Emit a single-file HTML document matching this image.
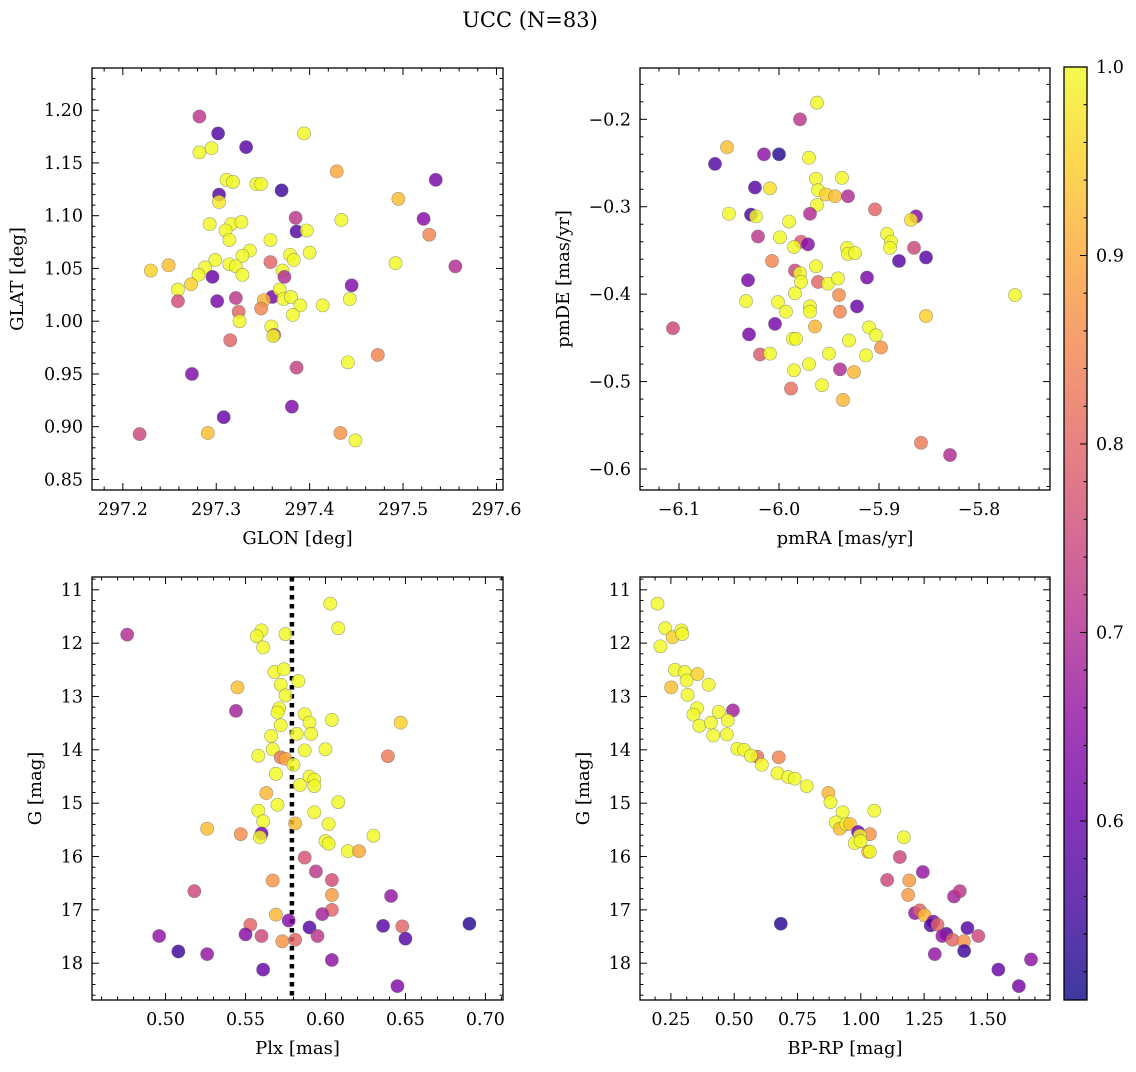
<!DOCTYPE html>
<html><head><meta charset="utf-8"><style>
html,body{margin:0;padding:0;background:#fff;}
svg text{font-family:"DejaVu Serif","Liberation Serif",serif;fill:#000;}
</style></head>
<body>
<svg id="fig" xmlns="http://www.w3.org/2000/svg" width="1136" height="1067" viewBox="0 0 1136 1067">
<defs>
<linearGradient id="plasmaGrad" x1="0" y1="1" x2="0" y2="0">
<stop offset="0" stop-color="#0d0887"/><stop offset="0.1" stop-color="#41049d"/><stop offset="0.2" stop-color="#6a00a8"/><stop offset="0.3" stop-color="#8f0da4"/><stop offset="0.4" stop-color="#b12a90"/><stop offset="0.5" stop-color="#cc4778"/><stop offset="0.6" stop-color="#e16462"/><stop offset="0.7" stop-color="#f2844b"/><stop offset="0.8" stop-color="#fca636"/><stop offset="0.9" stop-color="#fcce25"/><stop offset="1" stop-color="#f0f921"/>
</linearGradient>
</defs>
<text x="530" y="27" text-anchor="middle" font-size="21">UCC (N=83)</text>
</svg>
<script>
// ---- Panel 1: GLON / GLAT ----
const p1Lon=[297.282,297.302,297.394,297.332,297.282,297.295,297.429,297.535,297.311,297.318,297.343,297.348,297.370,297.303,297.303,297.495,297.522,297.385,297.434,297.528,297.386,297.397,297.293,297.316,297.327,297.310,297.314,297.358,297.400,297.336,297.328,297.379,297.383,297.492,297.556,297.358,297.299,297.314,297.321,297.288,297.249,297.230,297.281,297.328,297.296,297.371,297.373,297.273,297.259,297.445,297.259,297.301,297.321,297.360,297.368,297.351,297.348,297.372,297.380,297.390,297.414,297.443,297.382,297.324,297.325,297.359,297.362,297.361,297.315,297.473,297.441,297.386,297.274,297.381,297.308,297.218,297.291,297.433,297.449];
const p1Lat=[1.194,1.178,1.178,1.165,1.160,1.164,1.142,1.134,1.134,1.132,1.130,1.130,1.124,1.120,1.113,1.116,1.097,1.098,1.096,1.082,1.085,1.086,1.092,1.092,1.094,1.086,1.077,1.077,1.065,1.067,1.062,1.063,1.058,1.055,1.052,1.056,1.058,1.054,1.052,1.051,1.053,1.048,1.044,1.044,1.042,1.048,1.042,1.035,1.030,1.034,1.019,1.019,1.022,1.023,1.030,1.020,1.012,1.021,1.023,1.015,1.015,1.021,1.006,1.009,1.000,0.995,0.987,0.986,0.982,0.968,0.961,0.956,0.950,0.919,0.909,0.893,0.894,0.894,0.887];
const p1Prob=[0.72,0.57,1.0,0.58,1.0,1.0,0.9,0.62,1.0,1.0,1.0,1.0,0.55,0.58,0.98,0.93,0.64,0.72,1.0,0.85,0.58,1.0,1.0,1.0,1.0,1.0,1.0,1.0,1.0,1.0,1.0,1.0,1.0,1.0,0.7,0.8,1.0,1.0,1.0,1.0,0.93,0.95,1.0,1.0,0.6,1.0,0.7,0.95,1.0,0.63,0.76,0.62,0.72,0.62,1.0,0.92,0.85,1.0,1.0,1.0,1.0,1.0,1.0,0.8,1.0,1.0,0.75,1.0,0.8,0.85,1.0,0.74,0.63,0.63,0.6,0.75,0.93,0.87,1.0];
// ---- Panel 2: pmRA / pmDE ----
const p2RA=[-5.962,-5.979,-6.052,-6.015,-6.000,-6.064,-5.970,-5.963,-5.937,-6.024,-6.009,-5.961,-5.953,-5.944,-5.931,-5.962,-5.904,-6.050,-6.028,-6.023,-5.969,-5.863,-5.868,-5.990,-6.021,-5.999,-5.892,-5.888,-5.889,-5.978,-5.971,-5.985,-5.932,-5.931,-5.924,-5.865,-6.007,-5.880,-5.853,-5.984,-5.979,-5.978,-5.963,-5.961,-5.951,-5.941,-5.912,-6.031,-5.940,-5.984,-6.033,-6.001,-5.764,-5.969,-5.969,-5.922,-5.939,-5.993,-5.853,-6.106,-6.004,-5.964,-5.910,-6.030,-5.903,-5.986,-5.983,-5.930,-5.898,-6.019,-6.009,-5.950,-5.913,-5.970,-5.985,-5.939,-5.925,-5.957,-5.988,-5.936,-5.858,-5.829];
const p2DE=[-0.181,-0.200,-0.232,-0.240,-0.240,-0.251,-0.244,-0.268,-0.267,-0.278,-0.279,-0.281,-0.286,-0.288,-0.288,-0.298,-0.303,-0.308,-0.309,-0.311,-0.308,-0.311,-0.315,-0.317,-0.334,-0.335,-0.331,-0.340,-0.347,-0.340,-0.343,-0.346,-0.347,-0.354,-0.353,-0.347,-0.362,-0.362,-0.358,-0.373,-0.376,-0.386,-0.368,-0.386,-0.388,-0.382,-0.381,-0.384,-0.401,-0.399,-0.408,-0.409,-0.401,-0.414,-0.420,-0.414,-0.420,-0.420,-0.425,-0.439,-0.434,-0.437,-0.438,-0.446,-0.447,-0.451,-0.451,-0.453,-0.461,-0.469,-0.468,-0.468,-0.470,-0.480,-0.487,-0.486,-0.489,-0.504,-0.508,-0.521,-0.570,-0.584];
const p2Prob=[1.0,0.72,0.93,0.65,0.53,0.58,1.0,1.0,1.0,0.58,0.97,1.0,0.95,0.93,0.7,1.0,0.8,1.0,0.56,1.0,0.7,0.64,0.97,1.0,0.72,1.0,1.0,1.0,1.0,0.78,0.64,1.0,1.0,1.0,1.0,0.75,0.85,0.58,0.58,0.75,1.0,1.0,1.0,0.8,1.0,1.0,0.62,0.62,0.86,1.0,1.0,1.0,1.0,1.0,1.0,0.6,0.85,1.0,0.95,0.75,0.62,0.92,1.0,0.62,1.0,1.0,1.0,1.0,0.87,0.78,1.0,1.0,1.0,1.0,1.0,0.7,0.92,1.0,0.82,0.92,0.83,0.7];
// ---- Panel 3: Plx / G ----
const p3Plx=[0.603,0.608,0.476,0.560,0.557,0.575,0.561,0.568,0.574,0.583,0.572,0.545,0.575,0.544,0.571,0.570,0.587,0.590,0.604,0.647,0.572,0.582,0.591,0.566,0.567,0.587,0.600,0.558,0.572,0.575,0.580,0.639,0.569,0.590,0.593,0.584,0.593,0.563,0.570,0.558,0.608,0.593,0.561,0.581,0.602,0.526,0.547,0.560,0.559,0.630,0.600,0.602,0.614,0.621,0.587,0.594,0.604,0.567,0.604,0.518,0.641,0.604,0.598,0.569,0.577,0.553,0.590,0.636,0.648,0.690,0.496,0.550,0.560,0.595,0.573,0.581,0.650,0.508,0.526,0.604,0.561,0.645];
const p3G=[11.26,11.72,11.84,11.76,11.87,11.83,12.08,12.54,12.49,12.71,12.78,12.83,12.98,13.27,13.22,13.30,13.33,13.49,13.44,13.49,13.54,13.70,13.70,13.74,13.99,14.01,13.99,14.11,14.14,14.17,14.28,14.12,14.45,14.50,14.56,14.66,14.68,14.81,15.03,15.14,14.98,15.17,15.34,15.38,15.39,15.48,15.58,15.57,15.64,15.61,15.71,15.76,15.90,15.90,16.02,16.28,16.44,16.45,16.72,16.65,16.74,17.00,17.08,17.09,17.20,17.28,17.33,17.30,17.31,17.26,17.49,17.46,17.49,17.49,17.59,17.56,17.54,17.78,17.83,17.94,18.12,18.43];
const p3Prob=[1.0,1.0,0.7,1.0,1.0,1.0,1.0,1.0,1.0,1.0,1.0,0.93,1.0,0.68,1.0,1.0,1.0,1.0,1.0,0.95,1.0,1.0,1.0,1.0,1.0,1.0,1.0,1.0,0.83,0.9,1.0,0.83,1.0,1.0,1.0,1.0,1.0,0.92,1.0,1.0,1.0,1.0,1.0,0.93,1.0,0.93,0.86,0.62,1.0,1.0,1.0,1.0,1.0,0.9,0.77,0.72,0.76,0.87,0.88,0.75,0.66,0.8,0.68,0.92,0.64,0.8,0.58,0.58,0.8,0.53,0.65,0.64,0.75,0.72,0.87,0.8,0.58,0.55,0.66,0.65,0.6,0.63];
const plxMedian=0.579;
// ---- Panel 4: BP-RP / G ----
const p4BPRP=[0.197,0.228,0.257,0.291,0.295,0.209,0.266,0.305,0.355,0.312,0.399,0.251,0.316,0.495,0.353,0.339,0.439,0.362,0.408,0.475,0.417,0.471,0.512,0.539,0.591,0.566,0.609,0.676,0.671,0.713,0.739,0.786,0.872,0.880,0.928,1.053,0.901,0.917,0.943,0.957,0.989,1.036,0.996,0.976,0.999,1.029,1.036,1.170,1.154,1.245,1.104,1.191,1.187,1.368,1.391,1.214,1.233,1.251,1.286,1.276,1.303,1.338,1.322,1.362,1.407,1.421,1.464,1.408,1.292,1.543,1.672,1.624,0.684];
const p4G=[11.26,11.72,11.89,11.76,11.83,12.06,12.50,12.54,12.58,12.70,12.78,12.83,12.97,13.26,13.22,13.34,13.29,13.55,13.49,13.45,13.73,13.71,13.98,14.00,14.13,14.11,14.28,14.14,14.44,14.51,14.54,14.68,14.81,14.98,15.17,15.14,15.36,15.48,15.39,15.39,15.54,15.58,15.61,15.75,15.71,15.91,15.91,15.64,16.01,16.29,16.44,16.45,16.72,16.75,16.65,17.06,17.01,17.10,17.22,17.29,17.28,17.45,17.49,17.56,17.59,17.34,17.49,17.77,17.83,18.12,17.93,18.43,17.26];
const p4Prob=[1.0,1.0,0.95,1.0,1.0,1.0,1.0,1.0,0.95,1.0,1.0,0.93,1.0,0.68,1.0,1.0,1.0,1.0,1.0,1.0,1.0,1.0,1.0,1.0,0.82,1.0,1.0,0.85,1.0,1.0,1.0,1.0,0.92,1.0,1.0,1.0,1.0,0.93,1.0,0.93,0.62,0.87,1.0,1.0,1.0,0.92,1.0,1.0,0.75,0.66,0.75,0.88,0.88,0.68,0.72,0.66,0.8,0.92,0.62,0.58,0.8,0.58,0.66,0.8,0.87,0.58,0.75,0.55,0.66,0.6,0.65,0.62,0.53];
// ---- tick labels ----
const p1XTicks=[297.2,297.3,297.4,297.5,297.6];
const p1YTicks=[0.85,0.90,0.95,1.00,1.05,1.10,1.15,1.20];
const p2XTicks=[-6.1,-6.0,-5.9,-5.8];
const p2YTicks=[-0.6,-0.5,-0.4,-0.3,-0.2];
const p3XTicks=[0.50,0.55,0.60,0.65,0.70];
const gTicks=[11,12,13,14,15,16,17,18];
const p4XTicks=[0.25,0.50,0.75,1.00,1.25,1.50];
const cbTicks=[0.6,0.7,0.8,0.9,1.0];
const cMin=0.505, cMax=1.0;

const NS='http://www.w3.org/2000/svg';
const svg=document.getElementById('fig');
function mk(tag,attrs,parent){const e=document.createElementNS(NS,tag);for(const k in attrs)e.setAttribute(k,attrs[k]);(parent||svg).appendChild(e);return e;}
const stops=[[13,8,135],[65,4,157],[106,0,168],[143,13,164],[177,42,144],[204,71,120],[225,100,98],[242,132,75],[252,166,54],[252,206,37],[240,249,33]];
function plasma(v){let t=(v-cMin)/(cMax-cMin);t=Math.max(0,Math.min(1,t));const f=t*10,i=Math.min(9,Math.floor(f)),r=f-i;const a=stops[i],b=stops[i+1];return 'rgb('+[0,1,2].map(k=>Math.round(a[k]+(b[k]-a[k])*r)).join(',')+')';}
function fmt(v,d){const s=Math.abs(v).toFixed(d);return (v<0?'\u2212':'')+s;}

function panel(c){
  const g=mk('g',{});
  
  
  const sx=v=>c.x0+(v-c.xmin)/(c.xmax-c.xmin)*(c.x1-c.x0);
  const sy=c.inv? (v=>c.y0+(v-c.ymin)/(c.ymax-c.ymin)*(c.y1-c.y0)) : (v=>c.y1-(v-c.ymin)/(c.ymax-c.ymin)*(c.y1-c.y0));
  const tg=mk('g',{stroke:'#000','stroke-width':1},g);
  
  
  const i0=Math.ceil(c.xmin/c.xminor-1e-6),i1=Math.floor(c.xmax/c.xminor+1e-6);
  for(let i=i0;i<=i1;i++){const v=i*c.xminor;const major=c.xt.some(t=>Math.abs(t-v)<c.xminor/10);const L=major?7:3.5;const x=sx(v);
    mk('line',{x1:x,x2:x,y1:c.y1,y2:c.y1-L},tg);mk('line',{x1:x,x2:x,y1:c.y0,y2:c.y0+L},tg);}
  const j0=Math.ceil(Math.min(c.ymin,c.ymax)/c.yminor-1e-6),j1=Math.floor(Math.max(c.ymin,c.ymax)/c.yminor+1e-6);
  for(let i=j0;i<=j1;i++){const v=i*c.yminor;const major=c.yt.some(t=>Math.abs(t-v)<c.yminor/10);const L=major?7:3.5;const y=sy(v);
    mk('line',{x1:c.x0,x2:c.x0+L,y1:y,y2:y},tg);mk('line',{x1:c.x1,x2:c.x1-L,y1:y,y2:y},tg);}
  c.xt.forEach(v=>{const t=mk('text',{x:sx(v),y:c.y1+25,'text-anchor':'middle','font-size':17.5},g);t.textContent=fmt(v,c.xd);
    
    });
  c.yt.forEach(v=>{const t=mk('text',{x:c.x0-9,y:sy(v)+6,'text-anchor':'end','font-size':17.5},g);t.textContent=fmt(v,c.yd);
    
    });
  const xl=mk('text',{x:(c.x0+c.x1)/2,y:c.y1+54,'text-anchor':'middle','font-size':18},g);xl.textContent=c.xlab;
  
  
  const yl=mk('text',{x:c.ylx,y:(c.y0+c.y1)/2,'text-anchor':'middle','font-size':18,transform:'rotate(-90 '+c.ylx+' '+((c.y0+c.y1)/2)+')'},g);yl.textContent=c.ylab;
  
  
  const cid='clip'+c.name;const cp=mk('clipPath',{id:cid},g);mk('rect',{x:c.x0,y:c.y0,width:c.x1-c.x0,height:c.y1-c.y0},cp);
  const pg=mk('g',{'clip-path':'url(#'+cid+')'},g);
  
  
  if(c.vline!==undefined){const l=mk('line',{x1:sx(c.vline),x2:sx(c.vline),y1:c.y0,y2:c.y1,stroke:'#000','stroke-width':4.5,'stroke-dasharray':'4.5,4.5'},pg);
    
    }
  c.xs.forEach((xv,i)=>{const p=mk('circle',{cx:sx(xv),cy:sy(c.ys[i]),r:6.6,fill:plasma(c.cs[i]),'fill-opacity':0.82,stroke:'#666','stroke-opacity':0.6,'stroke-width':0.6},pg);
    
    });
  const fr=mk('rect',{x:c.x0,y:c.y0,width:c.x1-c.x0,height:c.y1-c.y0,fill:'none',stroke:'#000','stroke-width':1.3},g);
  
  
}
panel({name:'glon-glat-panel',x0:92,x1:503,y0:68,y1:490,xmin:297.167,xmax:297.607,ymin:0.840,ymax:1.240,xt:p1XTicks,yt:p1YTicks,xd:1,yd:2,xminor:0.02,yminor:0.01,xlab:'GLON [deg]',ylab:'GLAT [deg]',ylx:23,xs:p1Lon,ys:p1Lat,cs:p1Prob});
panel({name:'pm-panel',x0:640,x1:1050,y0:68,y1:490,xmin:-6.139,xmax:-5.729,ymin:-0.624,ymax:-0.1413,xt:p2XTicks,yt:p2YTicks,xd:1,yd:1,xminor:0.02,yminor:0.02,xlab:'pmRA [mas/yr]',ylab:'pmDE [mas/yr]',ylx:569,xs:p2RA,ys:p2DE,cs:p2Prob});
panel({name:'plx-g-panel',x0:92,x1:503,y0:577,y1:1000,inv:true,xmin:0.454,xmax:0.711,ymin:10.76,ymax:18.69,xt:p3XTicks,yt:gTicks,xd:2,yd:0,xminor:0.01,yminor:0.2,xlab:'Plx [mas]',ylab:'G [mag]',ylx:41,xs:p3Plx,ys:p3G,cs:p3Prob,vline:plxMedian});
panel({name:'cmd-panel',x0:640,x1:1050,y0:577,y1:1000,inv:true,xmin:0.128,xmax:1.747,ymin:10.76,ymax:18.69,xt:p4XTicks,yt:gTicks,xd:2,yd:0,xminor:0.0625,yminor:0.2,xlab:'BP-RP [mag]',ylab:'G [mag]',ylx:589,xs:p4BPRP,ys:p4G,cs:p4Prob});

const cb=mk('g',{});


const cbx=1064,cbw=23,cby0=67,cby1=1000;
const cy=v=>cby1-(v-cMin)/(cMax-cMin)*(cby1-cby0);
mk('rect',{x:cbx,y:cby0,width:cbw,height:cby1-cby0,fill:'url(#plasmaGrad)','fill-opacity':0.8},cb);
for(let i=Math.ceil(cMin/0.02);i<=Math.floor(cMax/0.02+1e-6);i++){const v=i*0.02;const major=cbTicks.some(t=>Math.abs(t-v)<0.002);const y=cy(v);
  mk('line',{x1:cbx+cbw,x2:cbx+cbw-(major?7:3.5),y1:y,y2:y,stroke:'#000','stroke-width':1},cb);}
cbTicks.forEach(v=>{const t=mk('text',{x:1096,y:cy(v)+6,'font-size':17.5},cb);t.textContent=v.toFixed(1);
  
  });
mk('rect',{x:cbx,y:cby0,width:cbw,height:cby1-cby0,fill:'none',stroke:'#000','stroke-width':1.3},cb);
</script>
</body></html>
